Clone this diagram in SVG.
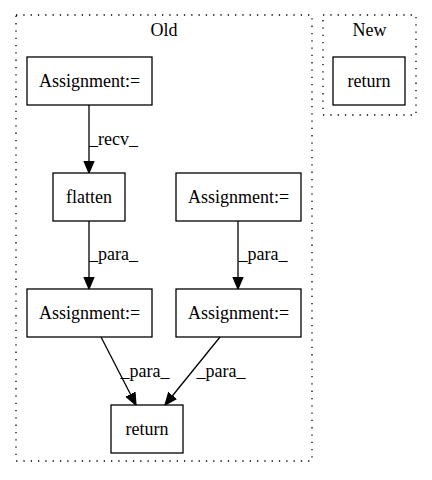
<svg xmlns="http://www.w3.org/2000/svg" width="432" height="480" viewBox="0 0 432 480">
<style>
text{font-family:'Liberation Serif','Times New Roman','DejaVu Serif',serif;font-size:18px;fill:#000}
.n{fill:none;stroke:#000;stroke-width:1.3}
.c{fill:none;stroke:#000;stroke-width:1.3;stroke-dasharray:1.3,6}
.e{fill:none;stroke:#000;stroke-width:1.3}
.m{text-anchor:middle}
</style>
<defs>
<marker id="a" viewBox="0 0 10 10" refX="10" refY="5" markerWidth="12" markerHeight="12" markerUnits="userSpaceOnUse" orient="auto">
<path d="M0,0.8 L10,5 L0,9.2 Z" fill="#000" stroke="#000" stroke-width="1"/>
</marker>
</defs>
<rect width="432" height="480" fill="#fff"/>
<g id="cluster_old">
<rect class="c" x="16" y="15" width="296" height="446"/>
<text class="m" x="164" y="36">Old</text>
</g>
<g id="cluster_new">
<rect class="c" x="323" y="15" width="93" height="100"/>
<text class="m" x="369.5" y="36">New</text>
</g>
<g id="n1">
<rect class="n" x="27" y="57" width="125" height="48"/>
<text class="m" x="89.5" y="87">Assignment:=</text>
</g>
<g id="n2">
<rect class="n" x="53" y="173" width="72" height="48"/>
<text class="m" x="89" y="203">flatten</text>
</g>
<g id="n3">
<rect class="n" x="176" y="173" width="125" height="48"/>
<text class="m" x="238.5" y="203">Assignment:=</text>
</g>
<g id="n4">
<rect class="n" x="27" y="289" width="125" height="48"/>
<text class="m" x="89.5" y="319">Assignment:=</text>
</g>
<g id="n5">
<rect class="n" x="176" y="289" width="125" height="48"/>
<text class="m" x="238.5" y="319">Assignment:=</text>
</g>
<g id="n6">
<rect class="n" x="111" y="405" width="72" height="48"/>
<text class="m" x="147" y="435">return</text>
</g>
<g id="n7">
<rect class="n" x="333" y="57" width="72" height="48"/>
<text class="m" x="369" y="87">return</text>
</g>
<g id="edges">
<path class="e" d="M89,105 L89,173" marker-end="url(#a)"/>
<text x="89" y="145">_recv_</text>
<path class="e" d="M89,221 L89,289" marker-end="url(#a)"/>
<text x="89" y="260">_para_</text>
<path class="e" d="M238,221 L238,289" marker-end="url(#a)"/>
<text x="238.5" y="260">_para_</text>
<path class="e" d="M101,337 L136,405" marker-end="url(#a)"/>
<text x="120.5" y="377">_para_</text>
<path class="e" d="M220,337 L165,405" marker-end="url(#a)"/>
<text x="196.5" y="377">_para_</text>
</g>
</svg>
